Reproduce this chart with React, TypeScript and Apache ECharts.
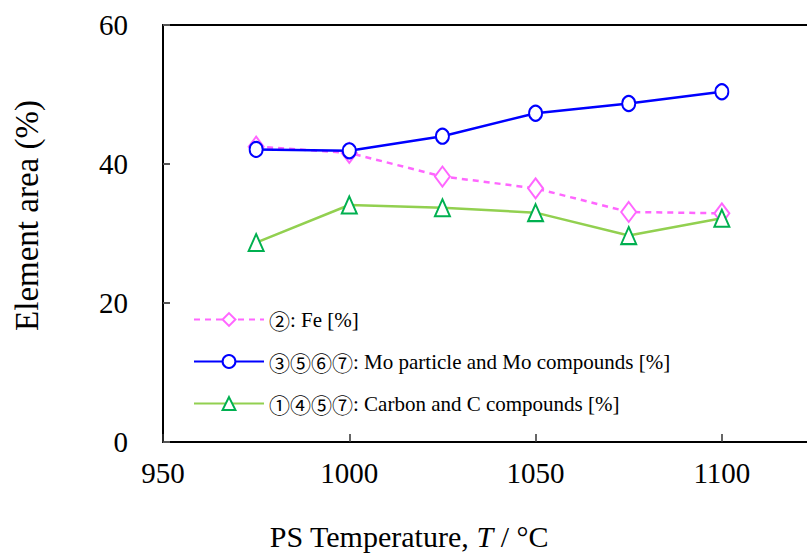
import React, { useEffect, useRef } from "react";
import * as echarts from "echarts";

const temps = [975, 1000, 1025, 1050, 1075, 1100];
const feValues = [42.5, 41.6, 38.2, 36.5, 33.1, 32.9];
const moValues = [42.1, 41.9, 44.0, 47.3, 48.7, 50.4];
const cValues = [28.7, 34.1, 33.7, 33.0, 29.7, 32.2];
const circledLabels = ["②", "③⑤⑥⑦", "①④⑤⑦"];
const legendTexts = ["Fe [%]", "Mo particle and Mo compounds [%]", "Carbon and C compounds [%]"];
const seriesNames = circledLabels.map((c, i) => `${c}: ${legendTexts[i]}`);

const SERIF = "'Liberation Serif', 'Times New Roman', serif";
const CJK = "'Noto Sans CJK JP', 'Liberation Serif', serif";

export default function App() {
  const ref = useRef<HTMLDivElement>(null);
  useEffect(() => {
    if (!ref.current) return;
    const chart = echarts.init(ref.current, null, { renderer: "svg" });
    const pair = (vals: number[]) => temps.map((t, i) => [t, vals[i]]);
    const axisCommon = {
      type: "value",
      min: 950,
      max: 1125,
      interval: 50,
    };
    chart.setOption({
      animation: false,
      backgroundColor: "#ffffff",
      grid: {
        left: 163,
        top: 25,
        width: 652,
        bottom: 115,
        outerBoundsMode: "none",
        containLabel: false,
        show: false,
      },
      legend: {
        orient: "vertical",
        left: 188,
        top: 304,
        itemGap: 21,
        itemWidth: 70,
        itemHeight: 16,
        textStyle: {
          fontFamily: SERIF,
          fontSize: 21,
          color: "#000",
          rich: {
            c: { fontFamily: CJK, fontSize: 21, color: "#000" },
            t: { fontFamily: SERIF, fontSize: 21, color: "#000" },
          },
        },
        formatter: (name: string) => {
          const i = seriesNames.indexOf(name);
          if (i < 0) return name;
          return `{c|${circledLabels[i]}}{t|: ${legendTexts[i]}}`;
        },
        data: seriesNames,
      },
      xAxis: [
        {
          ...axisCommon,
          name: "PS Temperature, {i|T} / °C",
          nameLocation: "middle",
          nameGap: 79,
          nameTextStyle: {
            fontFamily: SERIF,
            fontSize: 30,
            color: "#000",
            padding: [0, 160, 0, 0],
            rich: { i: { fontStyle: "italic", fontFamily: SERIF, fontSize: 30, color: "#000" } },
          },
          axisLine: { show: true, lineStyle: { color: "#000", width: 2 } },
          axisTick: { show: true, inside: true, length: 8, lineStyle: { color: "#333", width: 1.5 } },
          splitLine: { show: false },
          axisLabel: {
            fontFamily: SERIF,
            fontSize: 29,
            color: "#000",
            margin: 16,
            formatter: (v: number) => (v % 50 === 0 ? String(v) : ""),
          },
        },
        {
          ...axisCommon,
          position: "top",
          axisLine: { show: true, lineStyle: { color: "#000", width: 2 } },
          axisTick: { show: false },
          axisLabel: { show: false },
          splitLine: { show: false },
        },
      ],
      yAxis: {
        type: "value",
        min: 0,
        max: 60,
        interval: 20,
        name: "Element area (%)",
        nameLocation: "middle",
        nameGap: 120,
        nameTextStyle: { fontFamily: SERIF, fontSize: 33, color: "#000", padding: [0, 0, 0, 36] },
        axisLine: { show: true, lineStyle: { color: "#000", width: 2 } },
        axisTick: { show: true, inside: true, length: 7, lineStyle: { color: "#555", width: 2 } },
        splitLine: { show: false },
        axisLabel: { fontFamily: SERIF, fontSize: 29, color: "#000", margin: 35 },
      },
      series: [
        {
          name: seriesNames[0],
          type: "line",
          data: pair(feValues),
          symbol: "emptyDiamond",
          symbolSize: [15, 20],
          lineStyle: { color: "#ff66ff", width: 2.5, type: [6, 5] },
          itemStyle: { color: "#ff66ff", borderColor: "#ff66ff", borderWidth: 2.5 },
          z: 2,
        },
        {
          name: seriesNames[1],
          type: "line",
          data: pair(moValues),
          symbol: "emptyCircle",
          symbolSize: [13, 15],
          lineStyle: { color: "#0000ff", width: 2.5 },
          itemStyle: { color: "#0000ff", borderColor: "#0000ff", borderWidth: 2.5 },
          z: 3,
        },
        {
          name: seriesNames[2],
          type: "line",
          data: pair(cValues),
          symbol: "emptyTriangle",
          symbolSize: [15, 17],
          lineStyle: { color: "#92d050", width: 2.5 },
          itemStyle: { color: "#00b050", borderColor: "#00b050", borderWidth: 2.5 },
          z: 2,
        },
      ],
    });
    return () => chart.dispose();
  }, []);
  return (
    <div
      ref={ref}
      style={{ position: "fixed", left: 0, top: 0, width: 807, height: 557 }}
    />
  );
}
